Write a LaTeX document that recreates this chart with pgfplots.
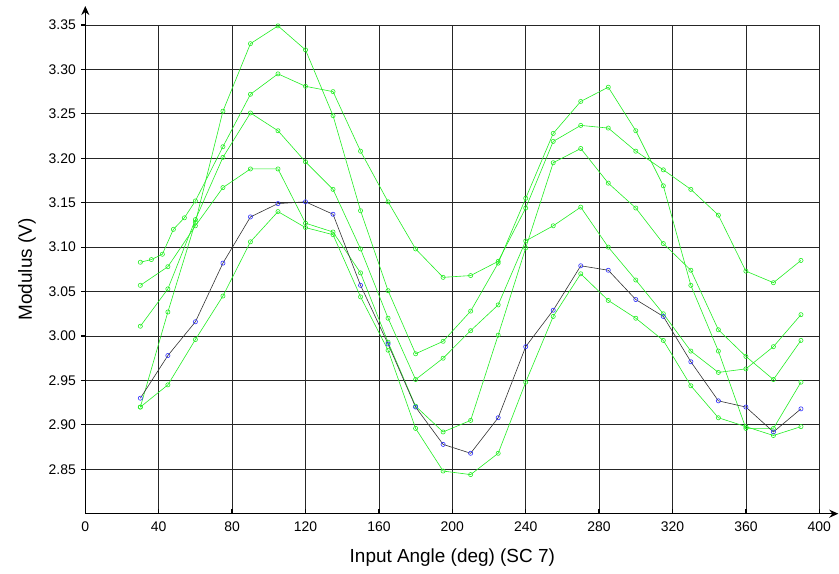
\documentclass[border=0pt]{standalone}
\usepackage{pgfplots}
\pgfplotsset{compat=1.18}
\usepackage{fontspec}
\setmainfont{Liberation Sans}
\usetikzlibrary{arrows.meta}
\definecolor{lgreen}{HTML}{22EE22}
\definecolor{mblue}{HTML}{3030FF}

\pgfplotstableread{
x y
30 3.083
36 3.086
42 3.092
48 3.120
54 3.133
60 3.152
75 3.213
90 3.272
105 3.295
120 3.281
135 3.275
150 3.208
165 3.151
180 3.098
195 3.066
210 3.068
225 3.084
240 3.144
255 3.219
270 3.237
285 3.234
300 3.208
315 3.187
330 3.165
345 3.136
360 3.073
375 3.060
390 3.085
}\seriesA

\pgfplotstableread{
x y
30 2.920
45 3.027
60 3.128
75 3.253
90 3.329
105 3.349
120 3.322
135 3.248
150 3.141
165 3.051
180 2.980
195 2.994
210 3.028
225 3.082
240 3.155
255 3.228
270 3.264
285 3.280
300 3.231
315 3.169
330 3.057
345 2.983
360 2.896
375 2.896
390 2.948
}\seriesB

\pgfplotstableread{
x y
30 3.011
45 3.053
60 3.131
75 3.201
90 3.251
105 3.231
120 3.196
135 3.165
150 3.098
165 3.020
180 2.951
195 2.975
210 3.006
225 3.035
240 3.107
255 3.124
270 3.145
285 3.100
300 3.063
315 3.025
330 2.983
345 2.959
360 2.963
375 2.988
390 3.024
}\seriesC

\pgfplotstableread{
x y
30 3.057
45 3.078
60 3.124
75 3.167
90 3.188
105 3.188
120 3.127
135 3.117
150 3.071
165 2.993
180 2.921
195 2.892
210 2.905
225 3.001
240 3.099
255 3.195
270 3.211
285 3.172
300 3.144
315 3.104
330 3.074
345 3.007
360 2.977
375 2.951
390 2.995
}\seriesD

\pgfplotstableread{
x y
30 2.920
45 2.945
60 2.996
75 3.045
90 3.106
105 3.140
120 3.122
135 3.114
150 3.044
165 2.984
180 2.896
195 2.848
210 2.844
225 2.868
240 2.948
255 3.022
270 3.070
285 3.040
300 3.020
315 2.995
330 2.944
345 2.908
360 2.898
375 2.888
390 2.898
}\seriesE

\pgfplotstableread{
x y
30 2.930
45 2.978
60 3.016
75 3.082
90 3.134
105 3.149
120 3.151
135 3.137
150 3.057
165 2.991
180 2.920
195 2.878
210 2.868
225 2.908
240 2.988
255 3.029
270 3.079
285 3.074
300 3.041
315 3.022
330 2.971
345 2.927
360 2.920
375 2.892
390 2.918
}\seriesBlue

\begin{document}
\begin{tikzpicture}
\begin{axis}[
  name=ax,
  scale only axis,
  width=734bp, height=488.7bp,
  xmin=0, xmax=400, ymin=2.8, ymax=3.35,
  axis lines=left,
  axis line style={line width=1.5bp},
  x axis line style={-{Stealth[length=9bp,width=8bp]}, shorten >=-19bp},
  y axis line style={-{Stealth[length=9bp,width=8bp]}, shorten >=-19bp},
  xtick={0,40,...,400},
  ytick={2.85,2.90,2.95,3.00,3.05,3.10,3.15,3.20,3.25,3.30,3.35},
  grid=major,
  major grid style={black!85, line width=0.75bp},
  tick align=inside,
  major tick length=5bp,
  xtick style={black, line width=1.5bp},
  ytick style={black, line width=1.2bp, xshift=-4bp},
  y tick label style={/pgf/number format/fixed, /pgf/number format/fixed zerofill, /pgf/number format/precision=2, xshift=-6bp},
  /pgf/number format/assume math mode=true,
  ticklabel style={font=\fontsize{14}{16}\selectfont},
  xticklabel style={yshift=-5bp},
  label style={font=\fontsize{19}{22}\selectfont},
  xlabel={Input Angle (deg) (SC 7)},
  ylabel={Modulus (V)},
  xlabel style={yshift=-10bp},
  ylabel style={yshift=6bp},
  every axis plot/.append style={line width=0.6bp, mark=o, mark size=2.1bp},
  clip=false,
]
\addplot[lgreen, mark options={lgreen}] table[x=x,y=y] {\seriesA};
\addplot[lgreen, mark options={lgreen}] table[x=x,y=y] {\seriesB};
\addplot[lgreen, mark options={lgreen}] table[x=x,y=y] {\seriesC};
\addplot[lgreen, mark options={lgreen}] table[x=x,y=y] {\seriesD};
\addplot[lgreen, mark options={lgreen}] table[x=x,y=y] {\seriesE};
\addplot[black!80, mark options={mblue}] table[x=x,y=y] {\seriesBlue};
\end{axis}
\pgfresetboundingbox
\path (ax.south west) ++(-85.3bp,-60.3bp) rectangle ++(839bp,574bp);
\end{tikzpicture}
\end{document}
